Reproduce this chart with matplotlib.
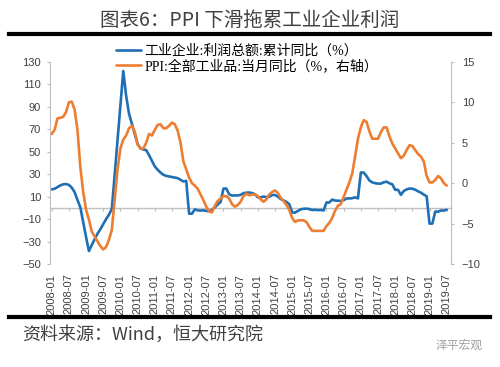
import matplotlib
matplotlib.use('Agg')
import matplotlib.pyplot as plt
from matplotlib.lines import Line2D

plt.rcParams['font.family'] = ['Liberation Sans', 'Noto Sans CJK SC', 'DejaVu Sans']

# ---------------- data ----------------
tick_labels = ['2008-01', '2008-07', '2009-01', '2009-07', '2010-01', '2010-07',
               '2011-01', '2011-07', '2012-01', '2012-07', '2013-01', '2013-07',
               '2014-01', '2014-07', '2015-01', '2015-07', '2016-01', '2016-07',
               '2017-01', '2017-07', '2018-01', '2018-07', '2019-01', '2019-07']

# 工业企业:利润总额:累计同比 (%), monthly 2008-01 .. 2019-07
profit = [
    16.5, 17.0, 18.5, 20.0, 21.0, 21.2, 20.5, 18.0, 14.0, 7.0, 0.5, -13.0,
    -26.0, -38.5, -33.0, -28.0, -23.0, -19.0, -14.5, -10.0, -6.0, -1.0, 30.0, 61.0,
    92.0, 122.0, 100.0, 84.0, 75.0, 66.0, 57.0, 53.0, 52.0, 51.5, 47.0, 42.0,
    37.0, 34.0, 31.5, 29.5, 28.5, 28.0, 27.5, 27.0, 26.5, 25.0, 23.5, 24.0,
    -5.2, -5.2, -1.3, -2.2, -2.4, -2.2, -2.7, -3.1, -1.8, 0.5, 3.0, 5.3,
    17.2, 17.2, 12.1, 10.9, 11.1, 11.1, 11.6, 13.1, 13.5, 13.7, 13.2, 12.2,
    9.4, 9.4, 10.1, 9.6, 9.8, 11.4, 11.5, 10.0, 7.9, 6.7, 5.3, 3.3,
    -4.2, -4.2, -2.7, -1.3, -0.8, -0.7, -1.0, -1.9, -1.7, -2.0, -1.9, -2.3,
    4.8, 4.8, 7.4, 6.5, 6.4, 6.2, 6.9, 8.4, 8.4, 8.6, 9.4, 8.5,
    31.5, 31.5, 28.3, 24.4, 22.7, 22.0, 21.6, 21.6, 22.8, 23.3, 21.9, 21.0,
    16.1, 16.1, 11.6, 15.0, 16.5, 17.2, 17.1, 16.2, 14.7, 13.6, 11.8, 10.3,
    -14.0, -14.0, -3.3, -3.4, -2.3, -2.4, -1.7,
]

# PPI:全部工业品:当月同比 (%), monthly 2008-01 .. 2019-07 (right axis)
ppi = [
    6.1, 6.6, 8.0, 8.1, 8.2, 8.8, 10.0, 10.1, 9.1, 6.6, 2.0, -1.1,
    -3.3, -4.5, -6.0, -6.6, -7.2, -7.8, -8.2, -7.9, -7.0, -5.8, -2.1, 1.7,
    4.3, 5.4, 5.9, 6.8, 7.1, 6.4, 4.8, 4.3, 4.3, 5.0, 6.1, 5.9,
    6.6, 7.2, 7.3, 6.8, 6.8, 7.1, 7.5, 7.3, 6.5, 5.0, 2.7, 1.7,
    0.7, 0.0, -0.3, -0.7, -1.4, -2.1, -2.9, -3.5, -3.6, -2.8, -2.2, -1.9,
    -1.6, -1.6, -1.9, -2.6, -2.9, -2.7, -2.3, -1.6, -1.3, -1.5, -1.4, -1.4,
    -1.6, -2.0, -2.3, -2.0, -1.4, -1.1, -0.9, -1.2, -1.8, -2.2, -2.7, -3.3,
    -4.3, -4.8, -4.6, -4.6, -4.6, -4.8, -5.4, -5.9, -5.9, -5.9, -5.9, -5.9,
    -5.3, -4.9, -4.3, -3.4, -2.8, -2.6, -1.7, -0.8, 0.1, 1.2, 3.3, 5.5,
    6.9, 7.8, 7.6, 6.4, 5.5, 5.5, 5.5, 6.3, 6.9, 6.9, 5.8, 4.9,
    4.3, 3.7, 3.1, 3.4, 4.1, 4.7, 4.6, 4.1, 3.6, 3.3, 2.7, 0.9,
    0.1, 0.1, 0.4, 0.9, 0.6, 0.0, -0.3,
]

label_profit = '工业企业:利润总额:累计同比（%）'
label_ppi = 'PPI:全部工业品:当月同比（%，右轴）'
title = '图表6：PPI 下滑拖累工业企业利润'
source = '资料来源：Wind，恒大研究院'
watermark = '泽平宏观'

BLUE = '#1f6fb4'
ORANGE = '#ed7d31'
GRID = '#bfbfbf'
TXT = '#404040'

# ---------------- figure ----------------
fig = plt.figure(figsize=(5, 3.67), dpi=100)
ax = fig.add_axes([0.1, 0.2807, 0.8014, 0.5504])
ax2 = ax.twinx()

x1 = list(range(len(profit)))
x2 = list(range(len(ppi)))
l1, = ax.plot(x1, profit, color=BLUE, lw=1.9, solid_joinstyle='round',
              solid_capstyle='round', label=label_profit)
l2, = ax2.plot(x2, ppi, color=ORANGE, lw=1.9, solid_joinstyle='round',
               solid_capstyle='round', label=label_ppi)

ax.set_ylim(-50, 130)
ax.set_yticks(range(-50, 131, 20))
ax2.set_ylim(-10, 15)
ax2.set_yticks(range(-10, 16, 5))
ax.set_xlim(-0.6, 139.4)

tick_pos = [6 * i for i in range(len(tick_labels))]
ax.set_xticks(tick_pos)
ax.set_xticklabels(tick_labels, rotation=90)
ax.tick_params(axis='x', length=0, pad=7, labelsize=8, labelcolor=TXT)

for a in (ax, ax2):
    a.spines['top'].set_visible(False)
    a.spines['bottom'].set_visible(False)
ax.spines['right'].set_visible(False)
ax2.spines['left'].set_visible(False)
ax.spines['left'].set_color(GRID)
ax2.spines['right'].set_color(GRID)

ax.tick_params(axis='y', length=2.5, color=GRID, labelsize=8, labelcolor=TXT, pad=4)
ax2.tick_params(axis='y', length=2.5, color=GRID, labelsize=8, labelcolor=TXT, pad=5.5)

# horizontal category axis crossing at zero (left scale)
sec = ax.secondary_xaxis(50 / 180)
sec.set_xticks(tick_pos)
sec.tick_params(axis='x', length=2.5, color=GRID, direction='out', labelbottom=False)
sec.spines['bottom'].set_color(GRID)
sec.spines['bottom'].set_linewidth(1.0)

# legend
fig.legend([l1, l2], [label_profit, label_ppi], loc='upper left',
           bbox_to_anchor=(0.232, 1 - 44 / 367), frameon=False,
           prop={'family': ['Liberation Serif', 'Noto Sans CJK SC'], 'size': 10},
           handlelength=1.8, handletextpad=0.25, labelspacing=0.12,
           borderpad=0, borderaxespad=0)

# title, rules, source
fig.text(0.5, 1 - 20 / 367, title, ha='center', va='center', fontsize=14,
         color=TXT, family=['Noto Sans CJK SC', 'DejaVu Sans'])
fig.add_artist(Line2D([9 / 500, 490 / 500], [1 - 33.5 / 367] * 2, color='black',
                      lw=3, transform=fig.transFigure))
fig.add_artist(Line2D([9 / 500, 490 / 500], [1 - 317 / 367] * 2, color='black',
                      lw=3, transform=fig.transFigure))
fig.text(22 / 500, 1 - 335 / 367, source, ha='left', va='center', fontsize=13,
         color=TXT, family=['Noto Sans CJK SC', 'DejaVu Sans'])
fig.text(483 / 500, 1 - 345 / 367, watermark, ha='right', va='center', fontsize=8.5,
         color='#a0a0a0', family=['Noto Sans CJK SC', 'DejaVu Sans'])

fig.savefig('out.png', dpi=100)
